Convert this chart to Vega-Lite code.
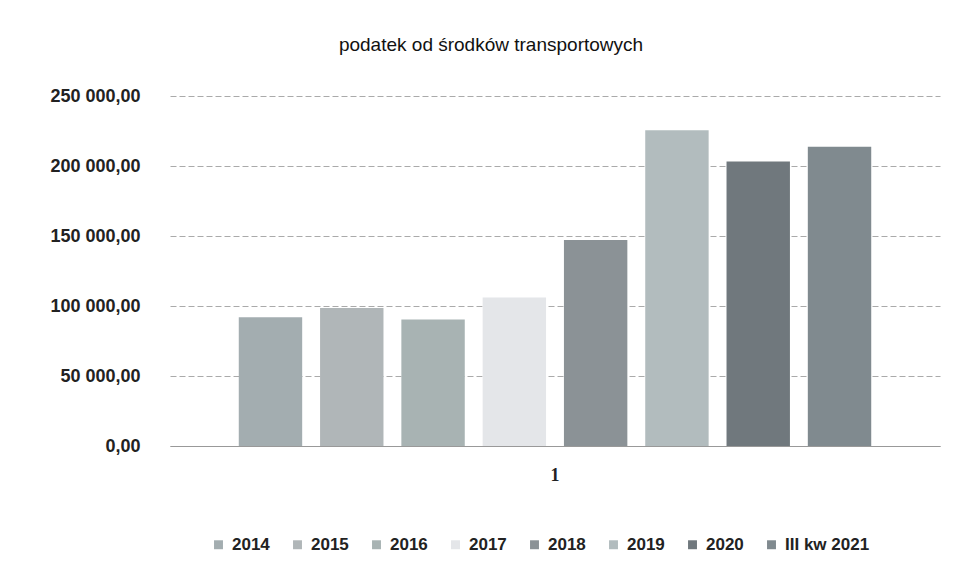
{
  "$schema": "https://vega.github.io/schema/vega-lite/v6.json",
  "width": 770,
  "height": 350,
  "autosize": {"type": "none"},
  "padding": {"left": 170, "top": 96, "right": 13, "bottom": 116},
  "background": "white",
  "title": {
    "text": "podatek od środków transportowych",
    "fontSize": 19,
    "font": "Liberation Sans",
    "fontWeight": "normal",
    "color": "#111",
    "offset": 32,
    "anchor": "middle",
    "dx": -64
  },
  "data": {
    "values": [
      {"grupa": "1", "rok": "2014", "kwota": 92000},
      {"grupa": "1", "rok": "2015", "kwota": 98600},
      {"grupa": "1", "rok": "2016", "kwota": 90400},
      {"grupa": "1", "rok": "2017", "kwota": 106100},
      {"grupa": "1", "rok": "2018", "kwota": 147200},
      {"grupa": "1", "rok": "2019", "kwota": 225500},
      {"grupa": "1", "rok": "2020", "kwota": 203200},
      {"grupa": "1", "rok": "III kw 2021", "kwota": 213800}
    ]
  },
  "mark": {"type": "bar"},
  "encoding": {
    "x": {
      "field": "grupa",
      "type": "nominal",
      "scale": {"paddingInner": 0, "paddingOuter": 0.092},
      "axis": {
        "title": null,
        "labelAngle": 0,
        "ticks": false,
        "domainColor": "#999",
        "labelFont": "Liberation Serif",
        "labelFontSize": 18,
        "labelFontWeight": "bold",
        "labelColor": "#222",
        "labelPadding": 20
      }
    },
    "xOffset": {
      "field": "rok",
      "type": "nominal",
      "sort": ["2014", "2015", "2016", "2017", "2018", "2019", "2020", "III kw 2021"],
      "scale": {"paddingInner": 0.22, "paddingOuter": 0.11}
    },
    "y": {
      "field": "kwota",
      "type": "quantitative",
      "scale": {"domain": [0, 250000]},
      "axis": {
        "title": null,
        "values": [0, 50000, 100000, 150000, 200000, 250000],
        "format": ",.2f",
        "ticks": false,
        "domain": false,
        "labelPadding": 30,
        "labelFont": "Liberation Sans",
        "labelFontSize": 18,
        "labelFontWeight": "bold",
        "labelColor": "#222",
        "gridColor": "#aaa",
        "gridDash": [6, 3],
        "gridWidth": 1
      }
    },
    "color": {
      "field": "rok",
      "type": "nominal",
      "sort": ["2014", "2015", "2016", "2017", "2018", "2019", "2020", "III kw 2021"],
      "scale": {
        "domain": ["2014", "2015", "2016", "2017", "2018", "2019", "2020", "III kw 2021"],
        "range": ["#a3adb0", "#b0b6b8", "#a8b3b3", "#e4e6e9", "#8b9296", "#b2bcbe", "#70787d", "#808a8f"]
      },
      "legend": {
        "title": null,
        "orient": "none",
        "direction": "horizontal",
        "legendX": 40,
        "legendY": 440,
        "symbolType": "square",
        "symbolSize": 80,
        "symbolStrokeWidth": 0,
        "labelFont": "Liberation Sans",
        "labelFontSize": 17,
        "labelFontWeight": "bold",
        "labelColor": "#222",
        "columnPadding": 19,
        "labelOffset": 5
      }
    }
  },
  "config": {
    "view": {"stroke": null},
    "locale": {
      "number": {
        "decimal": ",",
        "thousands": " ",
        "grouping": [3],
        "currency": ["", " zł"]
      }
    }
  }
}
